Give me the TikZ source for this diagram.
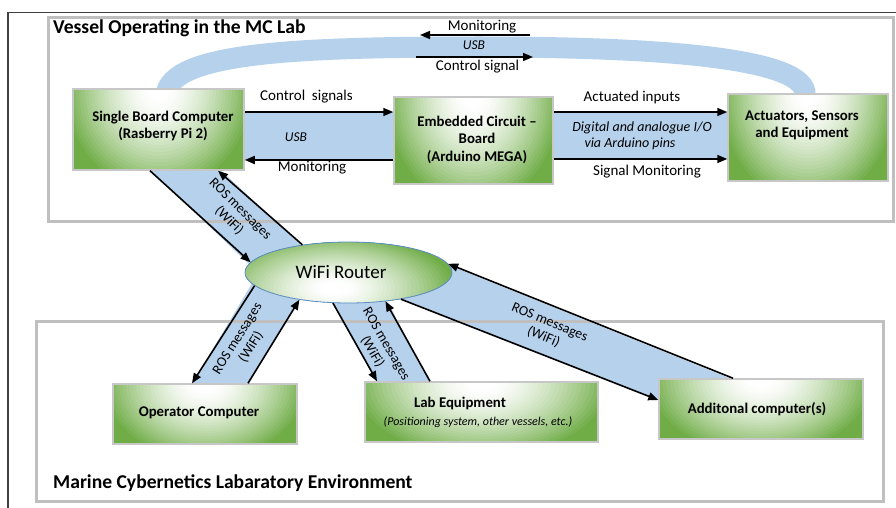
\documentclass[tikz,border=0pt]{standalone}
\usepackage{fontspec}
\setmainfont{Carlito}
\usetikzlibrary{arrows.meta,shapes.geometric,calc}
\definecolor{bandblue}{RGB}{182,209,235}
\definecolor{boxgreen}{RGB}{112,173,71}
\definecolor{framegray}{RGB}{191,191,191}
\definecolor{outerline}{RGB}{64,64,64}
\definecolor{ellborder}{RGB}{91,140,200}
\pgfdeclarelayer{bg}
\pgfsetlayers{bg,main}
\begin{document}
\begin{tikzpicture}[x=1pt,y=-1pt,
  gbox/.style 2 args={rectangle, draw=black!22, line width=1.5pt, inner sep=0pt,
    minimum width=#1pt, minimum height=#2pt,
    path picture={\fill[boxgreen] (path picture bounding box.south west) rectangle (path picture bounding box.north east);
      \foreach \i in {30,...,1}{\pgfmathsetmacro\gr{\i/30}\pgfmathsetmacro\gp{100*(max(0,(\gr-0.1)/0.9))^1.5}\pgfmathsetmacro\grx{\gr*#1/2*1.12}\pgfmathsetmacro\gry{\gr*#2*1.3}%
        \fill[boxgreen!\gp!white] (path picture bounding box.north) ellipse [x radius=\grx pt, y radius=\gry pt];}}},
  gell/.style={ellipse, draw=ellborder, line width=0.8pt, inner sep=0pt,
    path picture={\fill[boxgreen] (path picture bounding box.south west) rectangle (path picture bounding box.north east);
      \foreach \i in {30,...,1}{\pgfmathsetmacro\gr{\i/30}\pgfmathsetmacro\gp{100*(max(0,(\gr-0.1)/0.9))^1.4}\pgfmathsetmacro\grx{\gr*122}\pgfmathsetmacro\gry{\gr*56}%
        \fill[boxgreen!\gp!white] ([xshift=-14pt,yshift=-16pt]path picture bounding box.center) ellipse [x radius=\grx pt, y radius=\gry pt];}}},
  btext/.style={font=\fontsize{14.8}{17}\selectfont\bfseries, align=center},
  lbl/.style={font=\fontsize{15}{18}\selectfont},
  ital/.style={font=\fontsize{14}{17}\selectfont\itshape},
  ros/.style={font=\fontsize{14}{16}\selectfont, align=center},
  arr/.style={draw=black, line width=1.6pt, -{Triangle[length=10pt,width=8pt]}},
  band/.style={fill=bandblue},
  frame/.style={draw=framegray, line width=3pt}]
\useasboundingbox (0,0) rectangle (896,508);

% boxes
\node[gbox={171}{81}] (sbc) at (158.5,129.5) {};
\node[gbox={159}{87}] (emb) at (473.5,140.5) {};
\node[gbox={160}{87}] (act) at (808,137.5) {};
\node[gell, minimum width=207pt, minimum height=61pt] (wifi) at (348.5,272.5) {};
\node[gbox={184}{60}] (op) at (205,414) {};
\node[gbox={233}{60}] (lab) at (481.5,412) {};
\node[gbox={204}{60}] (add) at (761,409) {};

% box texts
\node[btext] (sbct) at (163,126) {Single Board Computer\\(Rasberry Pi 2)};
\node[btext, font=\fontsize{14.8}{17.5}\selectfont\bfseries] (embt) at (477,139.5) {Embedded Circuit –\\Board\\(Arduino MEGA)};
\node[btext] (actt) at (802,125.5) {Actuators, Sensors\\and Equipment};
\node[btext] (opt) at (199,413) {Operator Computer};
\node[btext] (labt) at (460,403) {Lab Equipment};
\node[font=\fontsize{12}{14}\selectfont\itshape] (labs) at (478,422) {(Positioning system, other vessels, etc.)};
\node[btext] (addt) at (757,409) {Additonal computer(s)};
\node[font=\fontsize{19}{22}\selectfont] (wifit) at (341,272) {WiFi Router};

% titles
\node[anchor=west, inner sep=0pt, font=\fontsize{19.6}{22}\selectfont\bfseries] (title) at (53,28) {Vessel Operating in the MC Lab};
\node[anchor=west, inner sep=0pt, font=\fontsize{19.6}{22}\selectfont\bfseries] (envt) at (53,483) {Marine Cybernetics Labaratory Environment};

% background bands and frames
\begin{pgfonlayer}{bg}
\fill[band] ([yshift=17.5]sbc.east) rectangle ([yshift=-19.5]emb.west);
\fill[band] ([yshift=28.5]emb.east) rectangle ([yshift=-21.5]act.west);
\fill[band] (145,165) -- (252,267) -- (305,248.5) -- (213,163) -- cycle;
\fill[band] (186,394) -- (257,275) -- (304,291) -- (243,392) -- cycle;
\fill[band] (326,291) -- (381,390) -- (434,390) -- (382,291) -- cycle;
\fill[band] (387,294) -- (668,404) -- (744,384) -- (436,260) -- cycle;
\draw[bandblue, line width=21pt] (166,95) .. controls (170,52) and (300,47) .. (480,47) .. controls (660,47) and (808,58) .. (805,95);
\draw[outerline, line width=1.2pt] (8,508) -- (8,12.5) -- (896,12.5);
\draw[frame] (48.5,17.5) rectangle (893.5,221.5);
\draw[frame] (36.5,321.5) rectangle (883.5,501.5);
\end{pgfonlayer}

% top arc arrows
\coordinate (mona) at (530,35);
\coordinate (monb) at (420,35);
\coordinate (csa) at (416,57);
\coordinate (csb) at (533,57);
\draw[arr] (mona) -- (monb);
\draw[arr] (csa) -- (csb);
\node[lbl] (l8) at (482,27) {Monitoring};
\node[ital, font=\fontsize{13.5}{16}\selectfont\itshape] (l9) at (474,45.5) {USB};
\node[lbl] (l10) at (477.5,67) {Control signal};

% horizontal links
\draw[arr] ([yshift=17.5]sbc.east) -- ([yshift=28.5]emb.west);
\draw[arr] ([yshift=-19.5]emb.west) -- ([yshift=-30.5]sbc.east);
\draw[arr] ([yshift=28.5]emb.east) -- ([yshift=25.5]act.west);
\draw[arr] ([yshift=-18.5]emb.east) -- ([yshift=-21.5]act.west);
\node[lbl] (l1) at (306.5,97) {Control\ \ signals};
\node[ital, font=\fontsize{13.5}{16}\selectfont\itshape] (l2) at (296,137) {USB};
\node[lbl] (l3) at (312,168) {Monitoring};
\node[lbl] (l4) at (632,98) {Actuated inputs};
\node[ital] (l5) at (642,128) {Digital and analogue I/O};
\node[ital] (l6) at (630,144) {via Arduino pins};
\node[lbl] (l7) at (647,172) {Signal Monitoring};

% wifi links
\draw[arr] ([xshift=-8.5]sbc.south) -- (wifi.174);
\draw[arr] (wifi.149) -- ([xshift=59.5]sbc.south);
\draw[arr] (wifi.188) -- ([xshift=-13]op.north);
\draw[arr] ([xshift=43]op.north) -- (wifi.209);
\draw[arr] (wifi.243) -- ([xshift=-104.5]lab.north);
\draw[arr] ([xshift=-51.5]lab.north) -- (wifi.322);
\draw[arr] (wifi.333) -- ([yshift=9]add.west);
\draw[arr] ([xshift=-28]add.north) -- (wifi.5);

\node[ros, rotate=-44.5] (r1) at (234.5,215) {ROS messages\\(WiFi)};
\node[ros, rotate=58] (r2) at (244.5,343) {ROS messages\\(WiFi)};
\node[ros, rotate=-60] (r3) at (379,348) {ROS messages\\(WiFi)};
\node[ros, rotate=-22.5] (r4) at (546.5,330) {ROS messages\\(WiFi)};
\end{tikzpicture}
\end{document}
